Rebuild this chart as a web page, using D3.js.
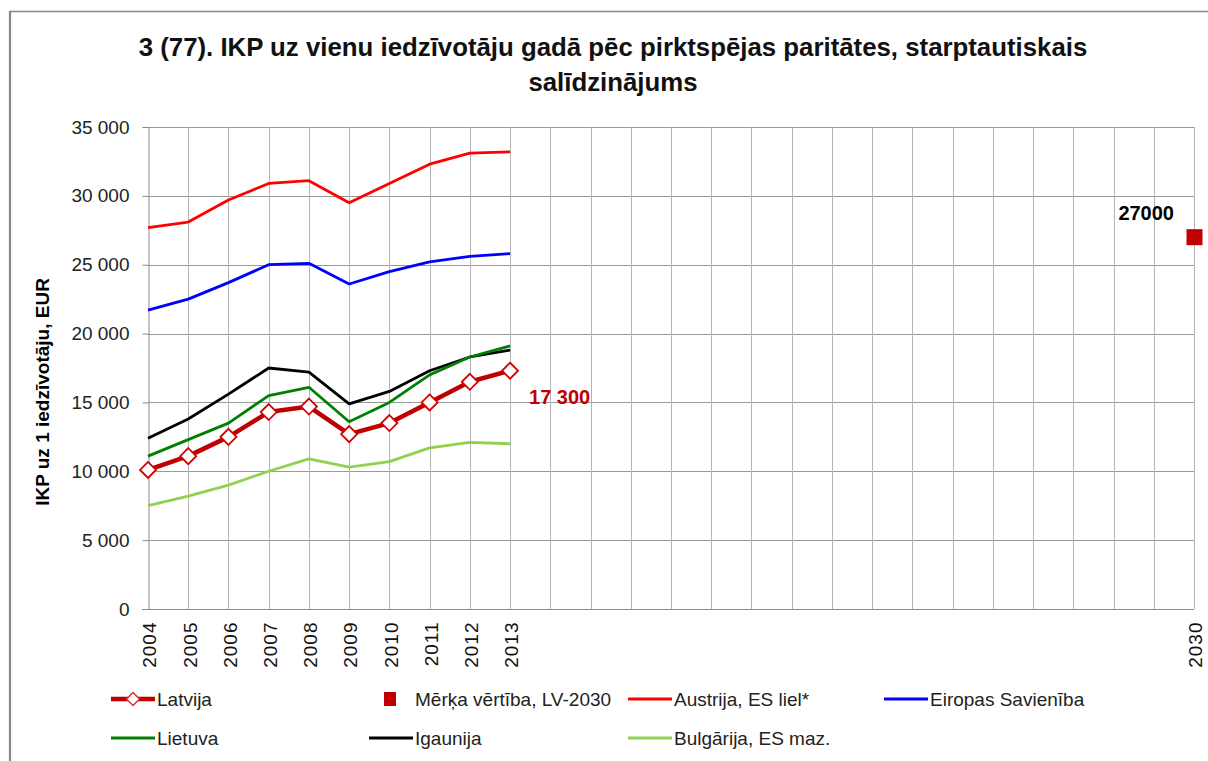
<!DOCTYPE html>
<html><head><meta charset="utf-8">
<script src="https://cdn.jsdelivr.net/npm/d3@7"></script>
<style>body{margin:0;background:#fff} svg{display:block}</style>
</head><body><svg id="c" width="1208" height="761"></svg>
<script>
const categories = ["2004","2005","2006","2007","2008","2009","2010","2011","2012","2013","2014","2015","2016","2017","2018","2019","2020","2021","2022","2023","2024","2025","2026","2027","2028","2029","2030"];
const tickLabels = ["2004","2005","2006","2007","2008","2009","2010","2011","2012","2013","","","","","","","","","","","","","","","","","2030"];
const dataYears = ["2004","2005","2006","2007","2008","2009","2010","2011","2012","2013"];
const latvija   = [10100,11100,12500,14300,14700,12700,13500,15000,16500,17300];
const austrija  = [27700,28100,29700,30900,31100,29500,30900,32300,33100,33200];
const es        = [21700,22500,23700,25000,25100,23600,24500,25200,25600,25800];
const lietuva   = [11100,12300,13500,15500,16100,13600,15000,17000,18300,19100];
const igaunija  = [12400,13800,15600,17500,17200,14900,15800,17300,18300,18800];
const bulgarija = [7500,8200,9000,10000,10900,10300,10700,11700,12100,12000];
const targetYears = ["2030"];
const targetValues = [27000];
const yTicks = [0,5000,10000,15000,20000,25000,30000,35000];
const seriesNames = ["Latvija","Mērķa vērtība, LV-2030","Austrija, ES liel*","Eiropas Savienība","Lietuva","Igaunija","Bulgārija, ES maz."];
const titleLines = ["3 (77). IKP uz vienu iedzīvotāju gadā pēc pirktspējas paritātes, starptautiskais","salīdzinājums"];
const yTitle = "IKP uz 1 iedzīvotāju, EUR";

const svg = d3.select("#c");
const FONT = "'Liberation Sans', Arial, sans-serif";
const locale = d3.formatLocale({decimal:",", thousands:" ", grouping:[3], currency:["","€"]});
const fmt = locale.format(",d");

// frame
svg.append("line").attr("x1",10).attr("x2",1208).attr("y1",11.5).attr("y2",11.5).attr("stroke","#888").attr("stroke-width",1.5);
svg.append("line").attr("x1",10).attr("x2",10).attr("y1",11).attr("y2",761).attr("stroke","#888").attr("stroke-width",2.2);

const x = d3.scalePoint().domain(categories).range([148,1194]).padding(0);
const y = d3.scaleLinear().domain([0,35000]).range([609,127]);

// grid
const g = svg.append("g");
g.selectAll(".hg").data(yTicks.filter(d=>d>0)).join("line")
  .attr("x1",148).attr("x2",1194).attr("y1",d=>Math.round(y(d))+0.5).attr("y2",d=>Math.round(y(d))+0.5)
  .attr("stroke","#9a9a9a").attr("stroke-width",1);
g.selectAll(".vg").data(categories.slice(1)).join("line")
  .attr("x1",d=>Math.round(x(d))+0.5).attr("x2",d=>Math.round(x(d))+0.5).attr("y1",y(35000)).attr("y2",y(0))
  .attr("stroke","#b4b4b4").attr("stroke-width",1);

// axes
const ya = svg.append("g").attr("transform","translate(148.5,0)")
  .call(d3.axisLeft(y).tickValues(yTicks).tickSize(6).tickPadding(13).tickFormat(fmt));
ya.select(".domain").attr("stroke","#8c8c8c");
ya.selectAll(".tick line").attr("stroke","#8c8c8c");
ya.selectAll("text").attr("font-family",FONT).attr("font-size",19).attr("fill","#222");

const xa = svg.append("g").attr("transform","translate(0,609.5)")
  .call(d3.axisBottom(x).tickSize(0).tickFormat((d,i)=>tickLabels[i]));
xa.select(".domain").attr("stroke","#8c8c8c").attr("d","M142,0H1194");
xa.selectAll("text").attr("font-family",FONT).attr("font-size",19).attr("fill","#111")
  .attr("transform","rotate(-90)").attr("x",-12).attr("y",1).attr("dy","0.36em").style("text-anchor","end")
  .attr("letter-spacing",1);

// lines
const line = d3.line().x((d,i)=>x(dataYears[i])).y(d=>y(d));
const lineSeries = [
  {v:bulgarija,c:"#92d050",w:2.8},
  {v:austrija,c:"#ff0000",w:2.8},
  {v:es,c:"#0000ff",w:2.8},
  {v:igaunija,c:"#000000",w:2.8},
  {v:lietuva,c:"#008000",w:2.8},
];
lineSeries.forEach(s=>{
  svg.append("path").datum(s.v).attr("d",line).attr("fill","none").attr("stroke",s.c).attr("stroke-width",s.w).attr("stroke-linejoin","round");
});
svg.append("path").datum(latvija).attr("d",line).attr("fill","none").attr("stroke","#c00000").attr("stroke-width",4.5).attr("stroke-linejoin","round");
const diamond = r => `M0,${-r}L${r},0L0,${r}L${-r},0Z`;
svg.selectAll(".lvm").data(latvija).join("path")
  .attr("transform",(d,i)=>`translate(${x(dataYears[i])},${y(d)})`)
  .attr("d",diamond(8)).attr("fill","#fff").attr("stroke","#d40000").attr("stroke-width",1.8);

// target
svg.selectAll(".tg").data(targetValues).join("rect")
  .attr("x",(d,i)=>x(targetYears[i])-7.5).attr("y",d=>y(d)-8).attr("width",16).attr("height",16).attr("fill","#c00000");

// data labels
svg.append("text").attr("x",x(dataYears[9])+19).attr("y",y(latvija[9])+33)
  .attr("font-family",FONT).attr("font-weight","bold").attr("font-size",20).attr("fill","#c00000").text(fmt(latvija[9]));
svg.append("text").attr("x",x(targetYears[0])-20).attr("y",y(targetValues[0])-17).attr("text-anchor","end")
  .attr("font-family",FONT).attr("font-weight","bold").attr("font-size",20).attr("fill","#000").text(String(targetValues[0]));

// title
svg.selectAll(".title").data(titleLines).join("text")
  .attr("x",613).attr("y",(d,i)=>56+i*35).attr("text-anchor","middle")
  .attr("font-family",FONT).attr("font-weight","bold").attr("font-size",25.8).attr("fill","#111").text(d=>d);

// y title
svg.append("text").attr("transform","translate(49,392) rotate(-90)").attr("text-anchor","middle")
  .attr("font-family",FONT).attr("font-weight","bold").attr("font-size",19).attr("fill","#000").text(yTitle);

// legend
const colX = [111,369,628,884];
const rowY = [699,738];
const legendItems = [
  {n:seriesNames[0],c:"#c00000",t:"lv",col:0,row:0},
  {n:seriesNames[1],c:"#c00000",t:"sq",col:1,row:0},
  {n:seriesNames[2],c:"#ff0000",t:"ln",col:2,row:0},
  {n:seriesNames[3],c:"#0000ff",t:"ln",col:3,row:0},
  {n:seriesNames[4],c:"#008000",t:"ln",col:0,row:1},
  {n:seriesNames[5],c:"#000000",t:"ln",col:1,row:1},
  {n:seriesNames[6],c:"#92d050",t:"ln",col:2,row:1},
];
const lg = svg.append("g");
legendItems.forEach(it=>{
  const lx = colX[it.col], ly = rowY[it.row];
  if(it.t==="lv"){
    lg.append("line").attr("x1",lx).attr("x2",lx+44).attr("y1",ly).attr("y2",ly).attr("stroke",it.c).attr("stroke-width",4.5);
    lg.append("path").attr("transform",`translate(${lx+22},${ly})`).attr("d",diamond(6.5)).attr("fill","#fff").attr("stroke","#e03030").attr("stroke-width",1.5);
  } else if(it.t==="sq"){
    lg.append("rect").attr("x",lx+15).attr("y",ly-7).attr("width",12).attr("height",14).attr("fill",it.c);
  } else {
    lg.append("line").attr("x1",lx).attr("x2",lx+44).attr("y1",ly).attr("y2",ly).attr("stroke",it.c).attr("stroke-width",3);
  }
  lg.append("text").attr("x",lx+46).attr("y",ly+7).attr("font-family",FONT).attr("font-size",19).attr("fill","#222").text(it.n);
});
</script></body></html>
